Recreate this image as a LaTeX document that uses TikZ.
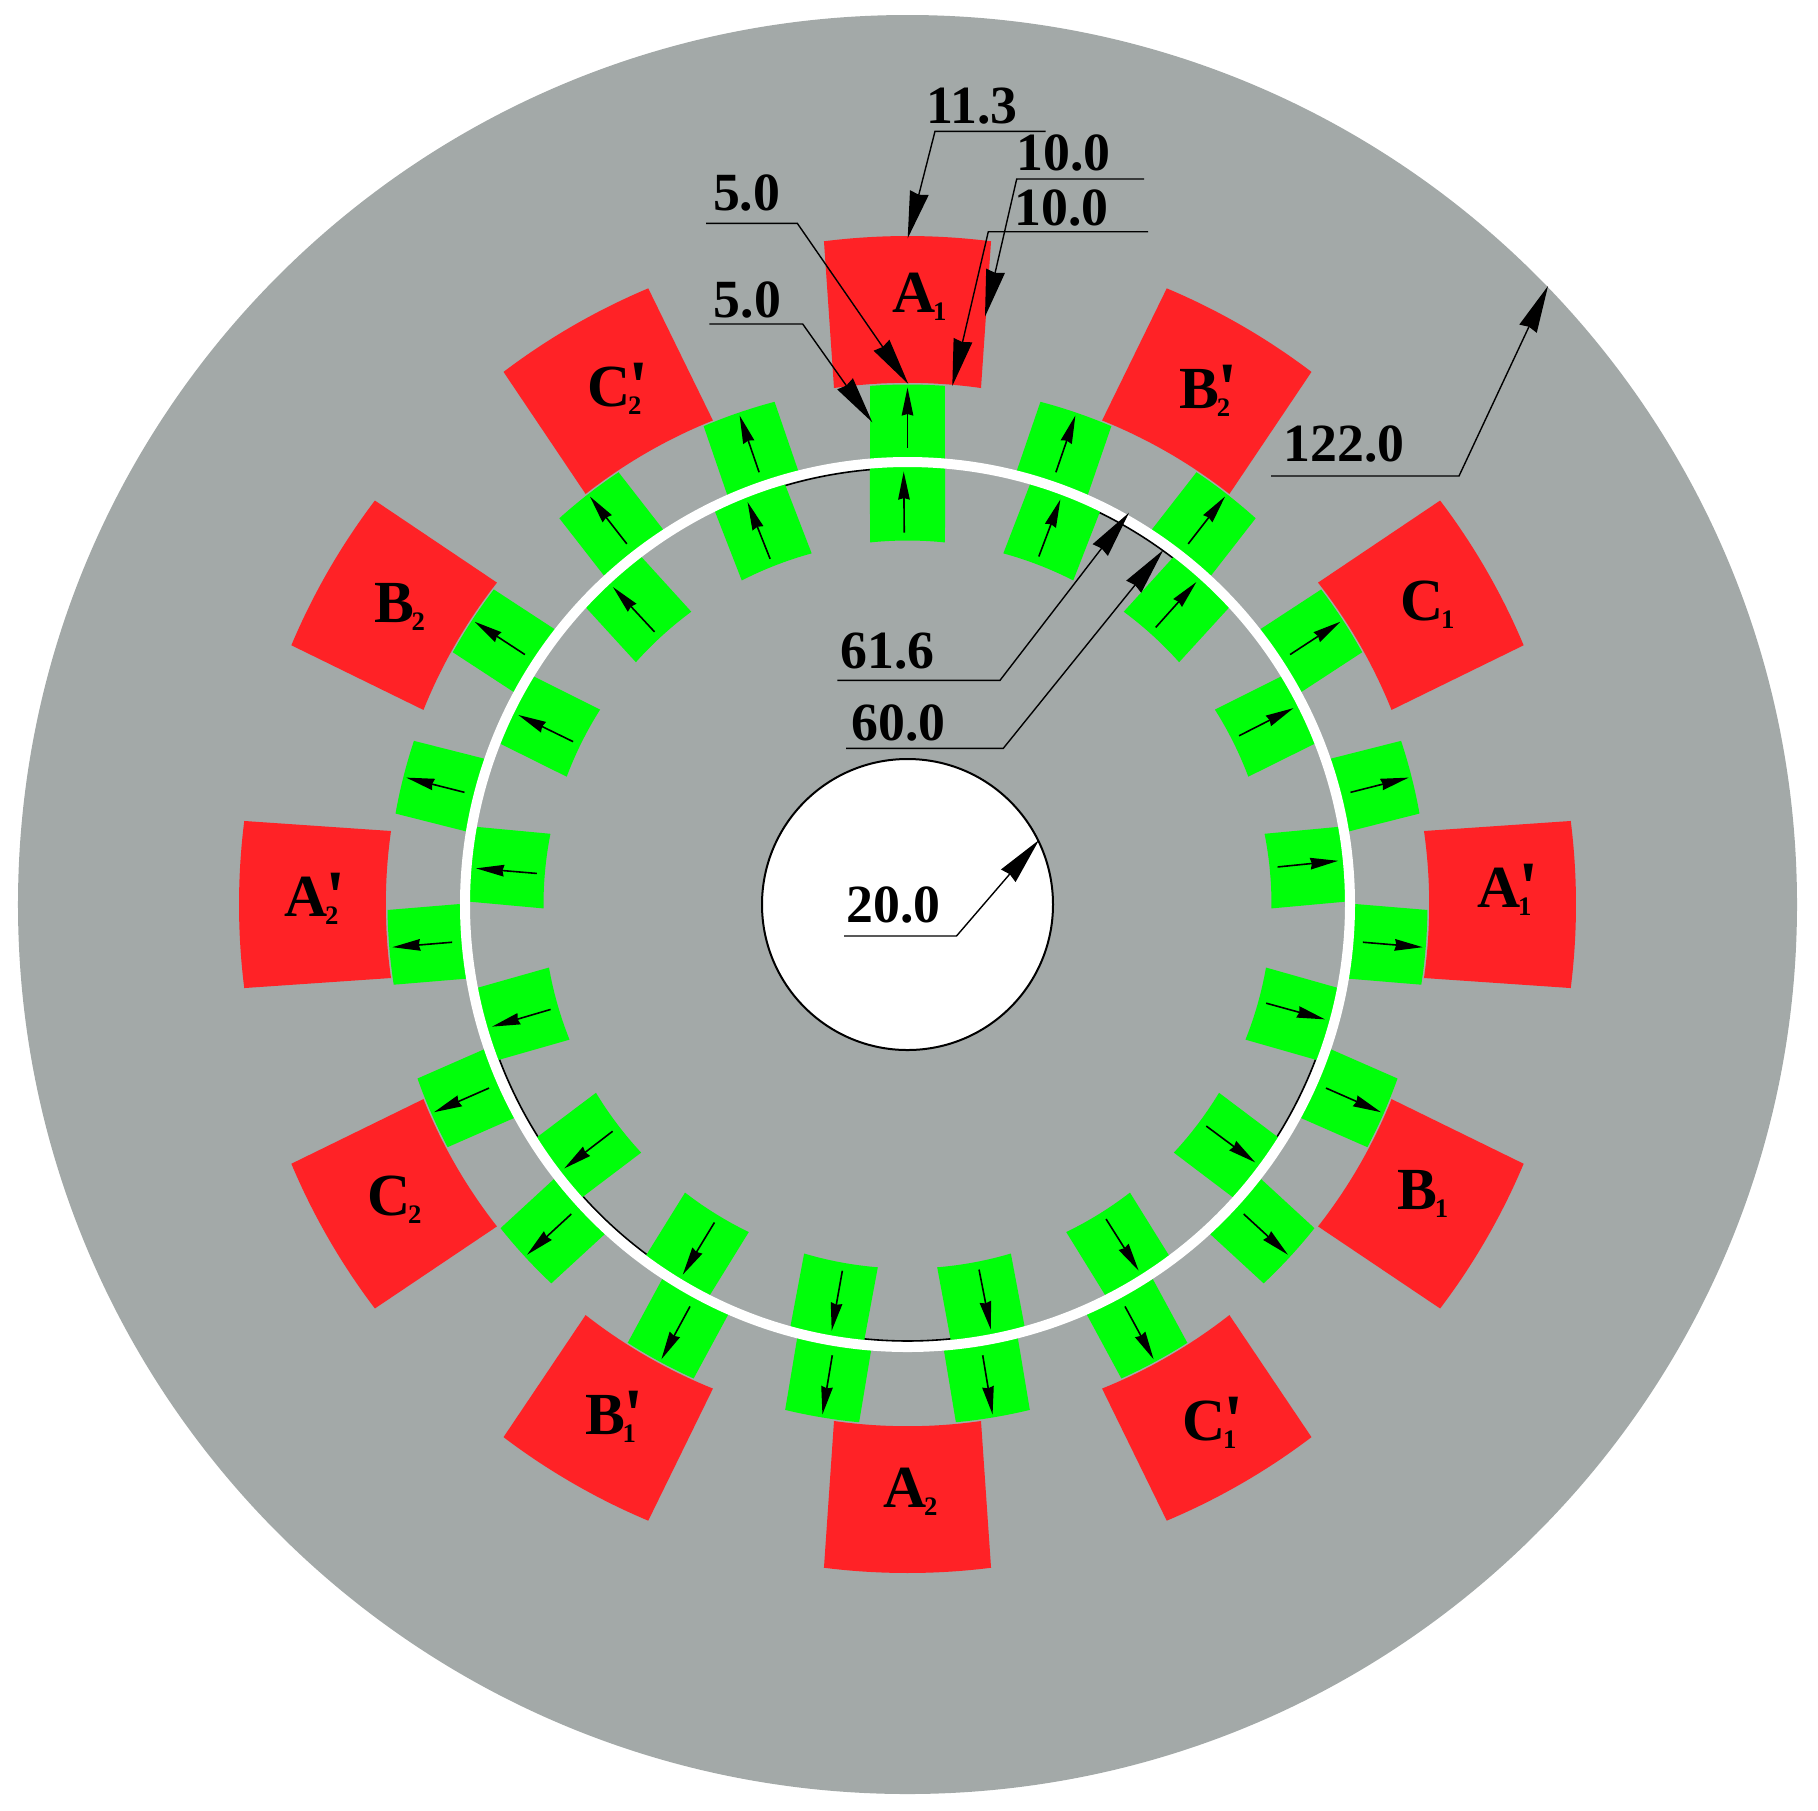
\documentclass[tikz,border=0pt]{standalone}
\usepackage{fontspec}
\setmainfont{Liberation Serif}
\newfontfamily\primefont[BoldFont=*]{Liberation Serif Bold}
\usetikzlibrary{arrows.meta}
\definecolor{yokegray}{RGB}{163,169,168}
\definecolor{coilred}{RGB}{255,34,38}
\definecolor{magnetgreen}{RGB}{0,255,10}
\newcommand{\polename}[2]{#1\kern-0.8pt{\fontsize{7.6}{8}\selectfont\raisebox{-2.3pt}{#2}}}
\newcommand{\polenamep}[2]{#1\kern-0.8pt\rlap{\fontsize{7.6}{8}\selectfont\raisebox{-2.3pt}{#2}}\kern0.2pt\raisebox{-1.6pt}{\fontsize{21}{22}\primefont'}}
\begin{document}
\begin{tikzpicture}[x=0.1mm, y=0.1mm]
    % Define styles
    \tikzstyle{coil} = [fill=coilred]
    \tikzstyle{magnet} = [fill=magnetgreen]
    \tikzstyle{fluxarrow} = [draw, black, line width=0.16mm, -{Stealth[length=2.8mm, width=1.15mm, inset=0.15mm]}]
    \tikzstyle{dimline} = [draw, black, line width=0.14mm, -{Stealth[length=4.7mm, width=1.9mm, inset=0.2mm]}]
    \tikzstyle{dimtext} = [inner sep=0, anchor=base west, xshift=-0.2mm, font=\fontsize{15.3}{17}\selectfont\bfseries]
    \tikzstyle{poletext} = [inner sep=0, anchor=base west, font=\fontsize{17}{18}\selectfont\bfseries]
    \tikzstyle{pixels} = [yscale=-1, shift={(-907.5,-904.5)}]

    \useasboundingbox (-907.5,904.5) rectangle (910.5,-905.5);

    % Stator disc and shaft bore
    \fill [yokegray] (0,0) circle (889.5);
    \draw [fill=white, draw=black, line width=0.2mm] (0,0) circle (145.5);

    % Rotor edge, only seen in parts next to the air gap
    \foreach \from/\to in {-159.2/-147.8, -138/-126.7, -95.7/-84.3, -32.2/-20.8, 52.5/63.9, 94.9/106.3}
        \draw [black, line width=0.16mm] (\from:436.5) arc [start angle=\from, end angle=\to, radius=436.5];

    % Inner magnets, 17 of them
    \foreach \k in {0,...,16} {
        \pgfmathsetmacro{\a}{90-\k*360/17}
        \fill [magnet] (\a+4.92:438) -- (\a+5.91:364) arc [start angle=\a+5.91, end angle=\a-5.91, radius=364]
            -- (\a-4.92:438) arc [start angle=\a-4.92, end angle=\a+4.92, radius=438] -- cycle;
    }
    % Outer magnets, 19 of them
    \foreach \k in {0,...,18} {
        \pgfmathsetmacro{\a}{90-\k*360/19}
        \fill [magnet] (\a+4.81:447) -- (\a+4.135:520) arc [start angle=\a+4.135, end angle=\a-4.135, radius=520]
            -- (\a-4.81:447) arc [start angle=\a-4.81, end angle=\a+4.81, radius=447] -- cycle;
    }

    % Air gap
    \draw [white, line width=1mm] (0,0) circle (442.5);

    % Coils
    \foreach \k in {0,...,11} {
        \pgfmathsetmacro{\a}{\k*30}
        \fill [coil] (\a+8.1:521.7) -- (\a+7.18:668.5) arc [start angle=\a+7.18, end angle=\a-7.18, radius=668.5]
            -- (\a-8.1:521.7) arc [start angle=\a-8.1, end angle=\a+8.1, radius=521.7] -- cycle;
    }

    % Magnet arrows
    \foreach \k in {0,...,16} {
        \pgfmathsetmacro{\a}{90.5-\k*360/17}
        \coordinate (itail\k) at (\a:372);
        \coordinate (itip\k) at (\a:433);
        \path [fluxarrow] (itail\k) -- (itip\k);
    }
    \foreach \k in {0,...,18} {
        \pgfmathsetmacro{\a}{90-\k*360/19}
        \coordinate (otail\k) at (\a:457);
        \coordinate (otip\k) at (\a:517);
        \path [fluxarrow] (otail\k) -- (otip\k);
    }

    \begin{scope}[pixels]
        % Place nodes - coil names
        \node [poletext] (a1) at (892,312) {\polename{A}{1}};
        \node [poletext] (a1p) at (1477,907) {\polenamep{A}{1}};
        \node [poletext] (a2) at (883,1507) {\polename{A}{2}};
        \node [poletext] (a2p) at (284,916) {\polenamep{A}{2}};
        \node [poletext] (b1) at (1397,1209) {\polename{B}{1}};
        \node [poletext] (b1p) at (585,1434) {\polenamep{B}{1}};
        \node [poletext] (b2) at (374,622) {\polename{B}{2}};
        \node [poletext] (b2p) at (1179,408) {\polenamep{B}{2}};
        \node [poletext] (c1) at (1400,620) {\polename{C}{1}};
        \node [poletext] (c1p) at (1182,1440) {\polenamep{C}{1}};
        \node [poletext] (c2) at (367,1215) {\polename{C}{2}};
        \node [poletext] (c2p) at (587,406) {\polenamep{C}{2}};

        % Place nodes - dimensions
        \node [dimtext] (d113) at (928,123) {11.3};
        \node [dimtext] (d100a) at (1018,170) {10.0};
        \node [dimtext] (d100b) at (1016,225) {10.0};
        \node [dimtext] (d50a) at (714.3,210) {5.0};
        \node [dimtext] (d50b) at (715,317.3) {5.0};
        \node [dimtext] (d616) at (841.7,668.3) {61.6};
        \node [dimtext] (d600) at (852.7,740.7) {60.0};
        \node [dimtext] (d1220) at (1285,461.5) {122.0};
        \node [dimtext] (d200) at (848,922) {20.0};

        % Leader points
        \coordinate (l113a) at (1045.7,131.3);
        \coordinate (l113b) at (935,131.3);
        \coordinate (l113c) at (907.7,238.3);
        \coordinate (l100aa) at (1144,179);
        \coordinate (l100ab) at (1016.7,179);
        \coordinate (l100ac) at (985,316.7);
        \coordinate (l100ba) at (1148,231.7);
        \coordinate (l100bb) at (988.3,231.7);
        \coordinate (l100bc) at (952.3,386);
        \coordinate (l50aa) at (706,223.3);
        \coordinate (l50ab) at (797.3,223.3);
        \coordinate (l50ac) at (908.3,384);
        \coordinate (l50ba) at (709.3,324);
        \coordinate (l50bb) at (802.7,324);
        \coordinate (l50bc) at (872.3,422.3);
        \coordinate (l616a) at (837.3,680.3);
        \coordinate (l616b) at (1000,680.3);
        \coordinate (l616c) at (1129,512.7);
        \coordinate (l600a) at (846,748.3);
        \coordinate (l600b) at (1003.3,748.3);
        \coordinate (l600c) at (1163.3,550);
        \coordinate (l1220a) at (1271,476);
        \coordinate (l1220b) at (1459,476);
        \coordinate (l1220c) at (1548,286);
        \coordinate (l200a) at (844,936);
        \coordinate (l200b) at (956.5,936);
        \coordinate (l200c) at (1039,840);

        % Draw leaders
        \path [dimline] (l113a) -- (l113b) -- (l113c);
        \path [dimline] (l100aa) -- (l100ab) -- (l100ac);
        \path [dimline] (l100ba) -- (l100bb) -- (l100bc);
        \path [dimline] (l50aa) -- (l50ab) -- (l50ac);
        \path [dimline] (l50ba) -- (l50bb) -- (l50bc);
        \path [dimline] (l616a) -- (l616b) -- (l616c);
        \path [dimline] (l600a) -- (l600b) -- (l600c);
        \path [dimline] (l1220a) -- (l1220b) -- (l1220c);
        \path [dimline] (l200a) -- (l200b) -- (l200c);
    \end{scope}
\end{tikzpicture}
\end{document}
